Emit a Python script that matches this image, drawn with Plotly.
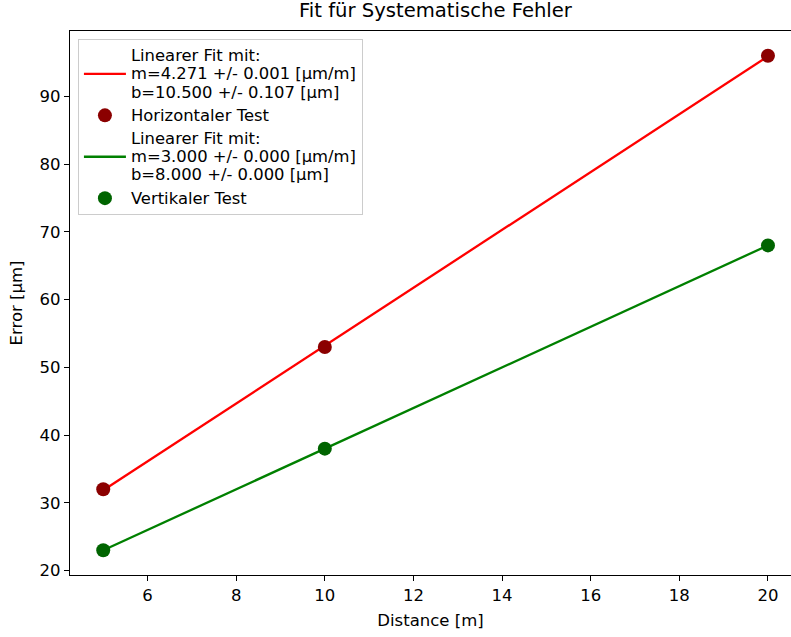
import numpy as np
import plotly.graph_objects as go

# Measurements
distance = [5, 10, 20]
error_horizontal = [32, 53, 96]
error_vertical = [23, 38, 68]

# Fit parameters (slope, intercept, uncertainties)
fit_h = {"m": 4.271, "dm": 0.001, "b": 10.500, "db": 0.107}
fit_v = {"m": 3.000, "dm": 0.000, "b": 8.000, "db": 0.000}

x_ticks = [6, 8, 10, 12, 14, 16, 18, 20]
y_ticks = [20, 30, 40, 50, 60, 70, 80, 90]

FONT = "DejaVu Sans, Liberation Sans, sans-serif"
# legend glyphs are larger than the base size that sets the line pitch
LEGEND_GLYPH = "font-size:16.4px"


def big(text):
    return f'<span style="{LEGEND_GLYPH}">{text}</span>'


def fit_label(p):
    lines = ["Linearer Fit mit:",
             f"m={p['m']:.3f} +/- {p['dm']:.3f} [μm/m]",
             f"b={p['b']:.3f} +/- {p['db']:.3f} [μm]"]
    return "<br>".join(big(s) for s in lines)


def fit_line(p):
    x = np.array(distance, dtype=float)
    return x, p["m"] * x + p["b"]


fig = go.Figure()

xh, yh = fit_line(fit_h)
fig.add_trace(go.Scatter(x=xh, y=yh, mode="lines", name=fit_label(fit_h),
                         legendgroup="a",
                         line=dict(color="#ff0000", width=2.3)))
fig.add_trace(go.Scatter(x=distance, y=error_horizontal, mode="markers",
                         name=big("Horizontaler Test"), legendgroup="b",
                         marker=dict(color="#8b0000", size=14)))

xv, yv = fit_line(fit_v)
fig.add_trace(go.Scatter(x=xv, y=yv, mode="lines", name=fit_label(fit_v),
                         legendgroup="c",
                         line=dict(color="#008000", width=2.3)))
fig.add_trace(go.Scatter(x=distance, y=error_vertical, mode="markers",
                         name=big("Vertikaler Test"), legendgroup="d",
                         marker=dict(color="#006400", size=14)))

fig.update_layout(
    width=791, height=637,
    margin=dict(l=70, r=0, t=31, b=62),
    paper_bgcolor="white", plot_bgcolor="white",
    font=dict(family=FONT, size=16.5, color="black"),
    showlegend=True,
    legend=dict(
        x=0.011, y=0.985, xanchor="left", yanchor="top",
        bgcolor="rgba(255,255,255,0.8)", bordercolor="#cccccc", borderwidth=1,
        font=dict(size=14), valign="middle", traceorder="grouped",
        tracegroupgap=2, itemwidth=42,
    ),
    annotations=[dict(
        text="Fit für Systematische Fehler", xref="paper", yref="paper",
        x=0.5076, y=1, yshift=7, xanchor="center", yanchor="bottom",
        showarrow=False, font=dict(size=19.6),
    )],
)

fig.update_xaxes(
    range=[4.25, 20.52], tickvals=x_ticks, showgrid=False, zeroline=False,
    showline=True, linecolor="black", linewidth=1.2, mirror=True,
    ticks="outside", ticklen=5, tickwidth=1, tickcolor="black",
    title=dict(text="Distance [m]", standoff=10, font=dict(size=16.5)),
)
fig.update_yaxes(
    range=[19.35, 99.65], tickvals=y_ticks, showgrid=False, zeroline=False,
    showline=True, linecolor="black", linewidth=1.2, mirror=False,
    ticks="outside", ticklen=5, tickwidth=1, tickcolor="black",
    title=dict(text="Error [μm]", standoff=12, font=dict(size=16.5)),
)

fig.write_html("out.html")
